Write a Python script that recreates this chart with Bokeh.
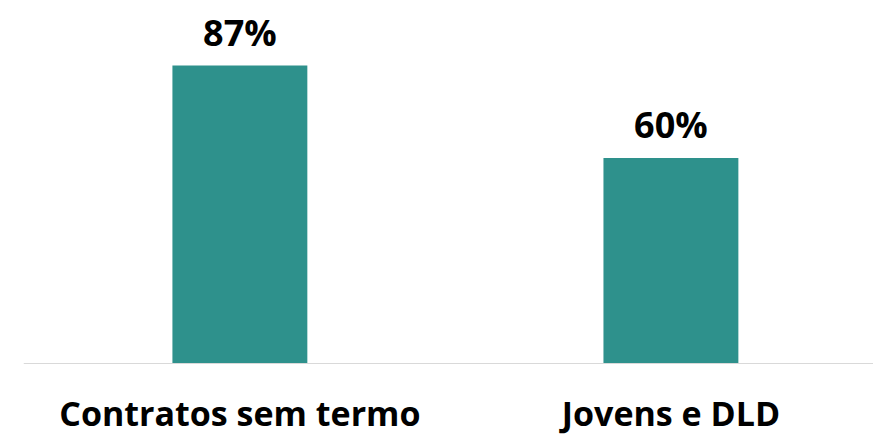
from bokeh.plotting import figure
from bokeh.models import ColumnDataSource, LabelSet, Range1d, Span
from bokeh.core.properties import value
from bokeh.embed import file_html
from bokeh.resources import INLINE

categories = ["Contratos sem termo", "Jovens e DLD"]
values = [87, 60]
labels = [f"{v}%" for v in values]

xs = list(range(len(categories)))
src = ColumnDataSource(data=dict(x=xs, top=values, label=labels, cat=categories,
                                 base=[0] * len(categories)))

# 3.425 px per percentage point; baseline 72 px above the bottom edge
p = figure(width=873, height=435, output_backend="svg", toolbar_location=None,
           x_range=Range1d(-0.502, 1.470), y_range=Range1d(-72 / 3.425, 363 / 3.425),
           min_border_left=23, min_border_right=0, min_border_top=0, min_border_bottom=0)

p.vbar(x="x", top="top", bottom=0, width=0.313, source=src,
       fill_color="#2E918C", line_color=None)

# value labels above bars
p.add_layout(LabelSet(x="x", y="top", text="label", source=src,
                      text_align="center", text_baseline="alphabetic", y_offset=20,
                      text_font=value("Open Sans"), text_font_style="bold",
                      text_font_size="36px", text_color="#000000"))

# category labels below the baseline
p.add_layout(LabelSet(x="x", y="base", text="cat", source=src,
                      text_align="center", text_baseline="alphabetic", y_offset=-62,
                      text_font=value("Open Sans"), text_font_style="bold",
                      text_font_size="34px", text_color="#000000"))

# baseline
p.add_layout(Span(location=0, dimension="width", line_color="#D9D9D9", line_width=1))

p.xaxis.visible = False
p.yaxis.visible = False
p.xgrid.visible = False
p.ygrid.visible = False
p.outline_line_color = None

open("out.html", "w").write(file_html(p, INLINE))
